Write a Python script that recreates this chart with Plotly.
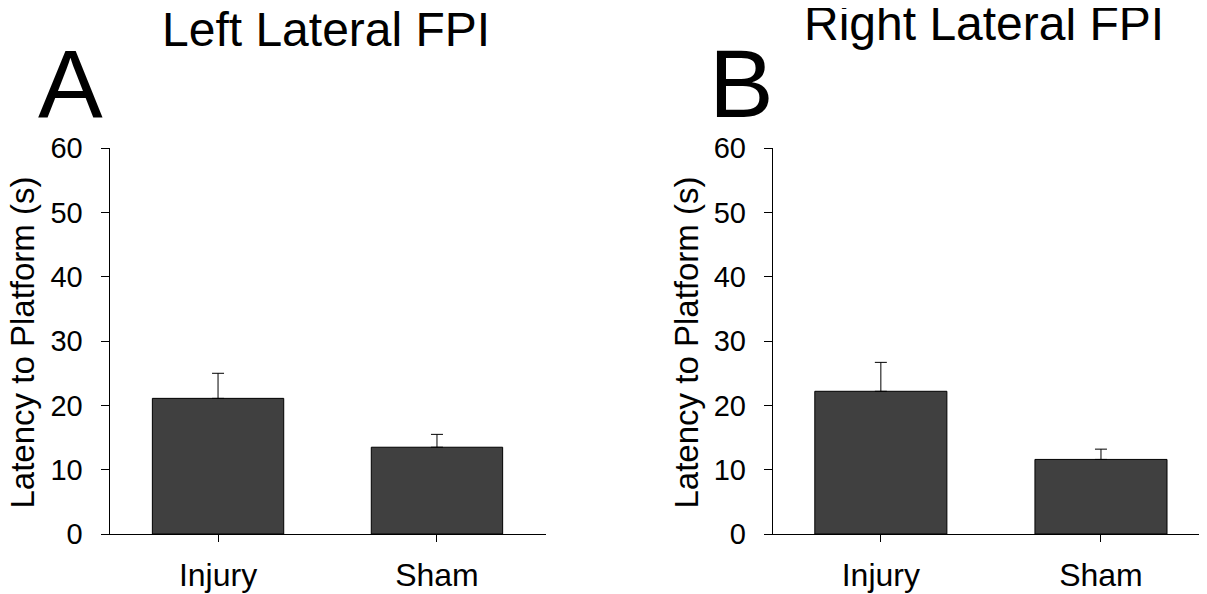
import plotly.graph_objects as go

W, H = 1207, 594
OFF = 8  # page body margin offset

categories = ["Injury", "Sham"]
left_means = [21.1, 13.5]
left_sem = [3.9, 2.0]
right_means = [22.2, 11.6]
right_sem = [4.5, 1.6]
y_ticks = [0, 10, 20, 30, 40, 50, 60]

panel_titles = ["Left Lateral FPI", "Right Lateral FPI"]
panel_letters = ["A", "B"]
y_title = "Latency to Platform (s)"

FONT = "Liberation Sans, Arial, sans-serif"
BAR_COLOR = "#404040"

def px(x):
    return (x - OFF) / W

def py(y):
    return 1 - (y - OFF) / H

fig = go.Figure()

for i, (means, sem) in enumerate([(left_means, left_sem), (right_means, right_sem)]):
    xa = "x" if i == 0 else "x2"
    ya = "y" if i == 0 else "y2"
    fig.add_trace(go.Bar(
        x=categories, y=means, xaxis=xa, yaxis=ya,
        width=0.6,
        marker=dict(color=BAR_COLOR, line=dict(color="black", width=1)),
        error_y=dict(type="data", array=sem, arrayminus=[0] * len(sem), symmetric=False,
                     color="black", thickness=1, width=6),
        showlegend=False,
        hoverinfo="skip",
    ))

ydom = [py(534), py(148.3)]

axis_common = dict(showline=True, linecolor="black", linewidth=1, showgrid=False,
                   zeroline=False, ticks="outside", tickcolor="black", automargin=False)

fig.update_layout(
    template="none",
    width=W, height=H,
    margin=dict(l=0, r=0, t=0, b=0, pad=0),
    paper_bgcolor="white", plot_bgcolor="white",
    font=dict(family=FONT, color="black"),
    xaxis=dict(domain=[px(102), px(546)], anchor="y", type="category",
               range=[-0.53, 1.498], ticklen=7, tickwidth=1,
               tickfont=dict(size=32, family=FONT, color="black"),
               ticklabelstandoff=6, **axis_common),
    yaxis=dict(domain=ydom, anchor="free", position=px(108.5), range=[0, 60],
               tickvals=y_ticks, ticklen=8, tickwidth=1,
               tickfont=dict(size=29, family=FONT, color="black"),
               ticklabelstandoff=12, **axis_common),
    xaxis2=dict(domain=[px(765.5), 1.0], anchor="y2", type="category",
                range=[-0.524, 1.518], ticklen=7, tickwidth=1,
                tickfont=dict(size=32, family=FONT, color="black"),
                ticklabelstandoff=6, **axis_common),
    yaxis2=dict(domain=ydom, anchor="free", position=px(771.7), range=[0, 60],
                tickvals=y_ticks, ticklen=8, tickwidth=1,
                tickfont=dict(size=29, family=FONT, color="black"),
                ticklabelstandoff=12, **axis_common),
)

annotations = [
    dict(text=panel_titles[0], x=px(326), y=py(30), font=dict(size=48)),
    dict(text=panel_titles[1], x=px(984), y=py(24), font=dict(size=48)),
    dict(text=panel_letters[0], x=px(70), y=py(84), font=dict(size=97)),
    dict(text=panel_letters[1], x=px(741.5), y=py(84), font=dict(size=97)),
    dict(text=y_title, x=px(22), y=py(342.5), font=dict(size=33), textangle=-90),
    dict(text=y_title, x=px(686), y=py(342.5), font=dict(size=33), textangle=-90),
]
for a in annotations:
    a.update(xref="paper", yref="paper", xanchor="center", yanchor="middle",
             showarrow=False)
    a["font"].update(family=FONT, color="black")
fig.update_layout(annotations=annotations)

fig.write_html("out.html")
